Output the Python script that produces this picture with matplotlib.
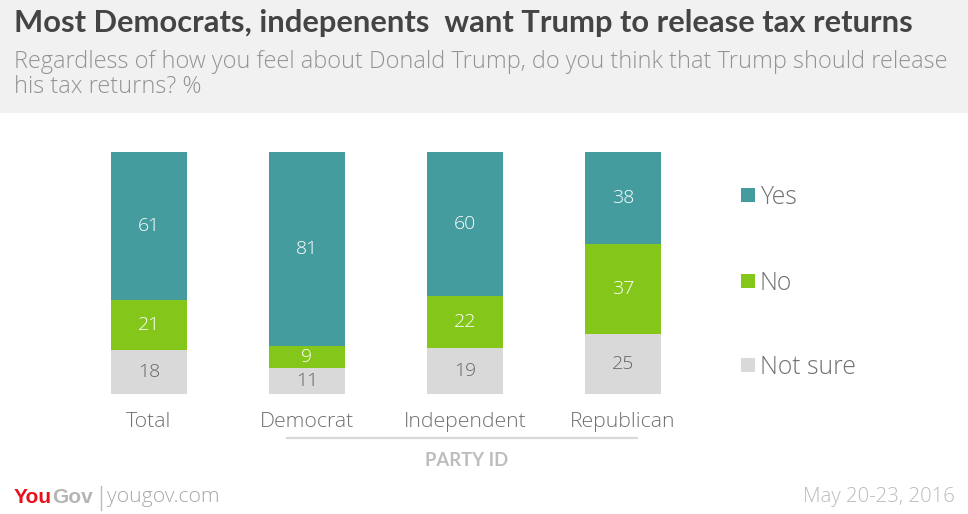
import matplotlib
matplotlib.use("Agg")
import matplotlib.pyplot as plt
from matplotlib.patches import Rectangle
from matplotlib.lines import Line2D
import numpy as np

categories = ["Total", "Democrat", "Independent", "Republican"]
yes = [61, 81, 60, 38]
no = [21, 9, 22, 37]
not_sure = [18, 11, 19, 25]
series_names = ["Yes", "No", "Not sure"]

TEAL = "#459C9E"
GREEN = "#84C71A"
GRAY = "#D9D9D9"
HEADER = "#F1F1F1"

W, H = 968, 514
fig = plt.figure(figsize=(W / 100, H / 100), dpi=100)
fig.patch.set_facecolor("white")

TFONT = ["Lato", "DejaVu Sans"]
FONT = ["Open Sans", "DejaVu Sans"]

def fx(px):
    return px / W

def fy(py):
    return 1 - py / H

# header band
fig.add_artist(Rectangle((0, fy(113)), 1, 113 / H, transform=fig.transFigure,
                         facecolor=HEADER, edgecolor="none", zorder=0))

fig.text(fx(14), fy(32), "Most Democrats, indepenents  want Trump to release tax returns",
         fontsize=22.2, fontweight="bold", color="#444444", family=TFONT, va="baseline")
fig.text(fx(14), fy(68), "Regardless of how you feel about Donald Trump, do you think that Trump should release",
         fontsize=16.9, fontweight="light", color="#939393", family=FONT, va="baseline")
fig.text(fx(14), fy(93), "his tax returns? %",
         fontsize=16.9, fontweight="light", color="#939393", family=FONT, va="baseline")

# axes
top_px, bot_px = 152, 394
ax = fig.add_axes([0, (H - bot_px) / H, 1, (bot_px - top_px) / H])
spacing = 158.0
c0 = 149.0
ax.set_xlim(-c0 / spacing, (W - c0) / spacing)
ax.set_ylim(0, 100)
ax.set_facecolor("none")
for s in ax.spines.values():
    s.set_visible(False)

x = np.arange(len(categories))
yes_a, no_a, ns_a = map(np.array, (yes, no, not_sure))
tot = yes_a + no_a + ns_a
ns_h = ns_a / tot * 100
no_h = no_a / tot * 100
yes_h = yes_a / tot * 100
bw = 76 / spacing

ax.bar(x, ns_h, width=bw, color=GRAY)
ax.bar(x, no_h, width=bw, bottom=ns_h, color=GREEN)
ax.bar(x, yes_h, width=bw, bottom=ns_h + no_h, color=TEAL)

for i in range(len(categories)):
    ax.text(x[i], ns_h[i] / 2, str(not_sure[i]), ha="center", va="center",
            fontsize=14, color="#666666", family=FONT, fontweight="light")
    ax.text(x[i], ns_h[i] + no_h[i] / 2, str(no[i]), ha="center", va="center",
            fontsize=14, color="white", family=FONT, fontweight="light")
    ax.text(x[i], ns_h[i] + no_h[i] + yes_h[i] / 2, str(yes[i]), ha="center", va="center",
            fontsize=14, color="white", family=FONT, fontweight="light")

ax.set_xticks(x)
ax.set_xticklabels(categories, fontsize=15.3, color="#707070", family=FONT, fontweight="light")
ax.tick_params(axis="x", length=0, pad=13)
ax.set_yticks([])

# party id line & label
fig.add_artist(Line2D([fx(287), fx(637)], [fy(438), fy(438)], transform=fig.transFigure,
                      color="#D9D9D9", linewidth=1.6))
fig.text(fx(467), fy(461), "PARTY ID", ha="center", va="center", fontsize=13.3,
         fontweight="bold", color="#BDBDBD", family=TFONT)

# legend
leg_colors = [TEAL, GREEN, GRAY]
leg_y = [195, 281, 365]
for name, col, yc in zip(series_names, leg_colors, leg_y):
    fig.add_artist(Rectangle((fx(741), fy(yc + 7)), 14 / W, 14 / H, transform=fig.transFigure,
                             facecolor=col, edgecolor="none"))
    fig.text(fx(760), fy(yc + 2), name, ha="left", va="center", fontsize=17.8,
             color="#707070", family=FONT, fontweight="light")

# footer
t1 = fig.text(fx(14), fy(503), "You", fontsize=15, fontweight="bold", color="#E8101A",
              family=["Liberation Sans", "DejaVu Sans"], va="baseline")
fig.canvas.draw()
bb = t1.get_window_extent()
fig.text(bb.x1 / W, fy(503), "Gov", fontsize=15, fontweight="bold", color="#B5B5B5",
         family=["Liberation Sans", "DejaVu Sans"], va="baseline")
fig.add_artist(Line2D([fx(101), fx(101)], [fy(486), fy(510)], transform=fig.transFigure,
                      color="#BBBBBB", linewidth=1.0))
fig.text(fx(107), fy(502), "yougov.com", fontsize=15.2, color="#A8A8A8", family=FONT,
         fontweight="light", va="baseline")
fig.text(fx(955), fy(502), "May 20-23, 2016", fontsize=14.7, color="#BBBBBB", family=FONT,
         fontweight="light", va="baseline", ha="right")

fig.savefig("out.png", dpi=100, facecolor="white")
